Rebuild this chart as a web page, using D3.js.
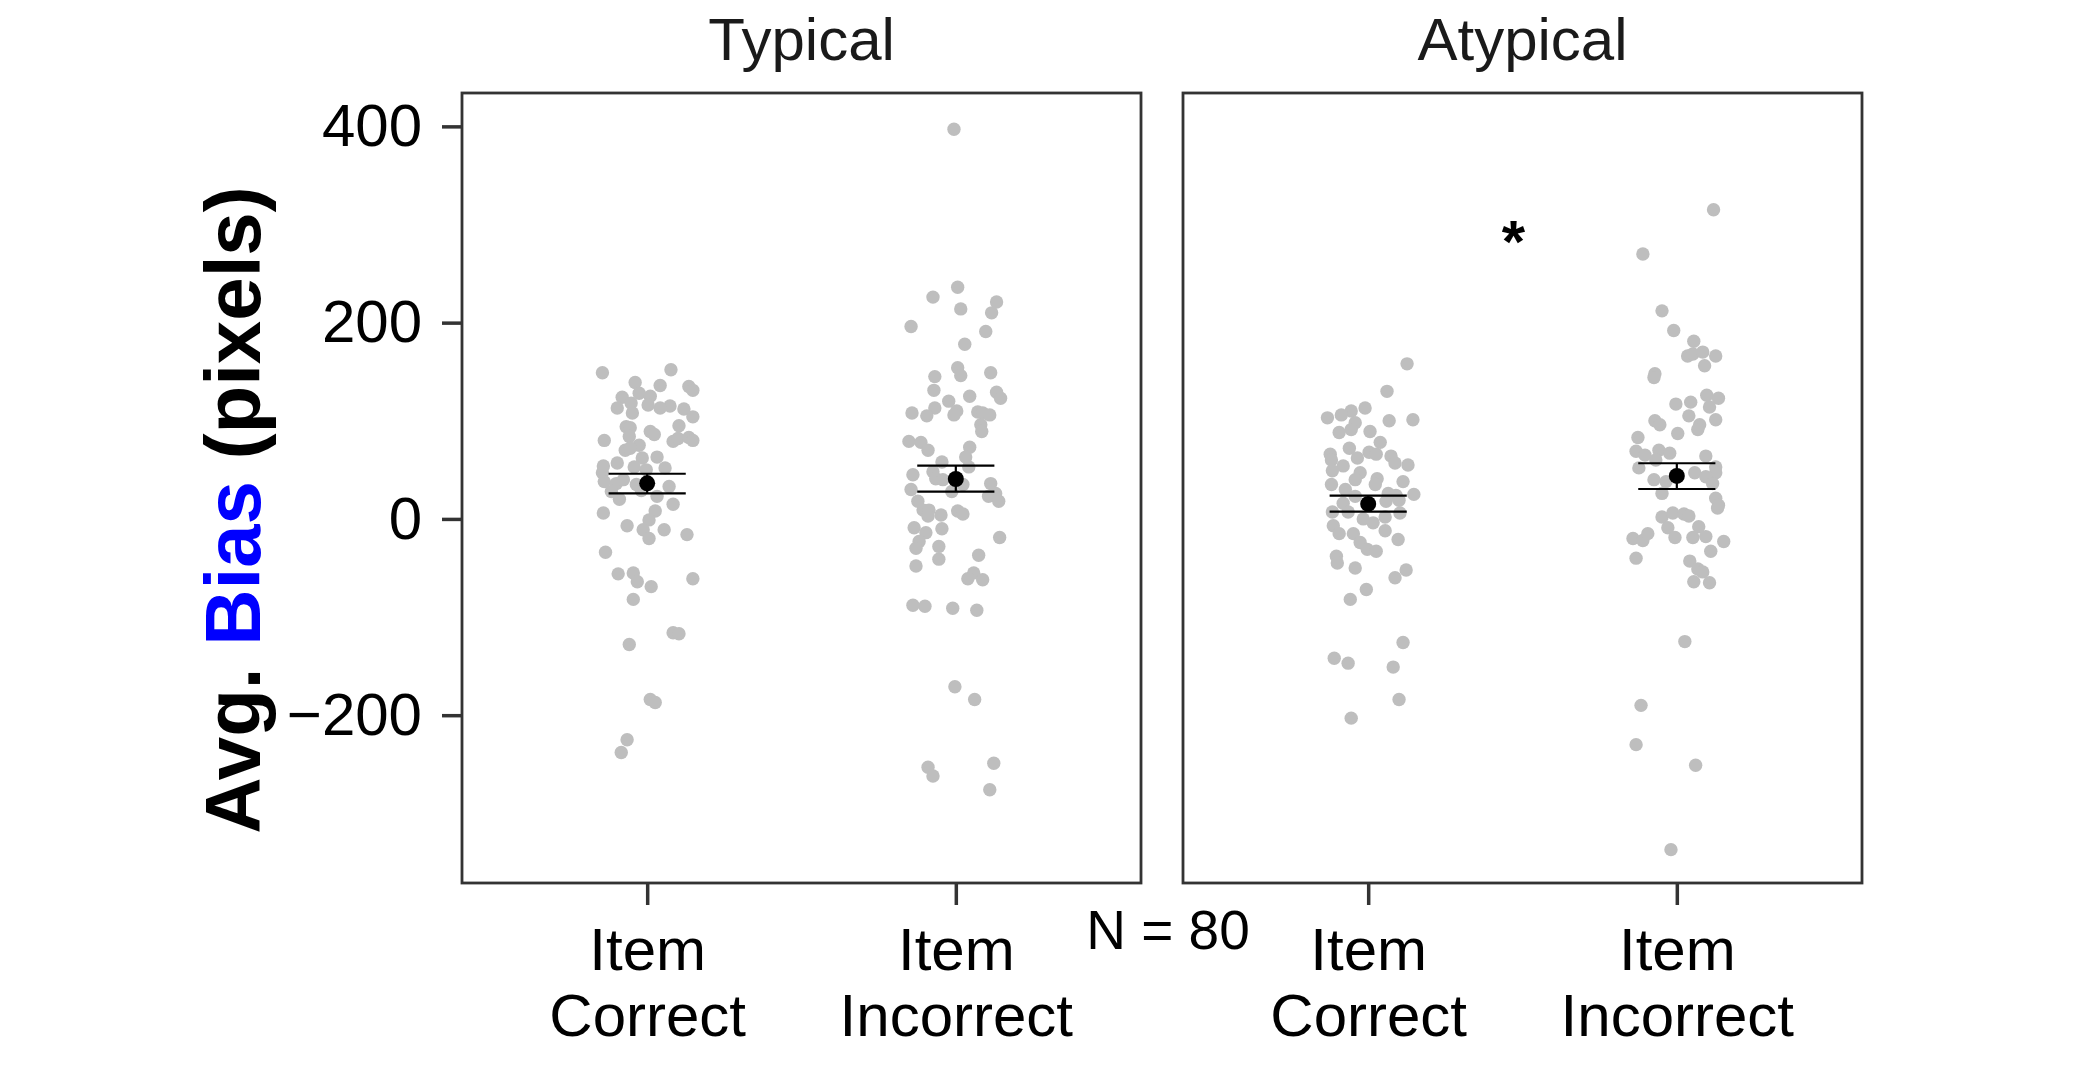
<!DOCTYPE html>
<html>
<head>
<meta charset="utf-8">
<script src="https://cdn.jsdelivr.net/npm/d3@7"></script>
<style>
  body { margin: 0; background: #fff; }
  svg { display: block; font-family: "Liberation Sans", Arial, Helvetica, sans-serif; }
</style>
</head>
<body>
<svg id="chart" width="2081" height="1075"></svg>
<script>
// facets and x categories
const conditions = ['Typical', 'Atypical'];
const items = ['Item Correct', 'Item Incorrect'];
const yTicks = [-200, 0, 200, 400];

// each point: [jitter (fraction of category step), avg bias in pixels]
const typicalCorrect = [
  [-.145,149],[.077,152],[-.039,139],[.042,136],[.135,135],[.148,131],[-.026,128],[-.081,124],[.010,125],[-.052,118],
  [-.097,113],[.003,116],[.074,115],[.042,113],[-.048,108],[.119,112],[.148,104],[.103,95],[-.068,94],[-.055,93],
  [.010,89],[.023,86],[-.058,84],[-.139,80],[.084,79],[.100,82],[.135,83],[.148,80],[-.026,75],[-.071,70],
  [-.055,72],[-.016,62],[.032,63],[-.097,57],[-.142,54],[-.042,53],[-.003,50],[.058,52],[-.145,47],[-.139,38],
  [-.100,36],[-.077,40],[-.035,35],[-.019,29],[.071,33],[-.116,28],[.032,23],[-.090,20],[.084,15],[.026,8],
  [-.142,6],[.006,-1],[-.065,-7],[-.013,-11],[.055,-11],[.129,-16],[.006,-20],[-.135,-34],[-.094,-56],[-.045,-55],
  [-.032,-64],[.013,-69],[.148,-61],[-.045,-82],[.084,-116],[.103,-117],[-.058,-128],[.010,-184],[.026,-187],[-.065,-225],
  [-.084,-238]
];
const typicalIncorrect = [
  [-.006,397],[.006,236],[-.074,226],[.016,214],[.132,221],[.116,210],[-.145,196],[.097,191],[.029,178],[.006,154],
  [.016,146],[-.068,145],[.113,149],[-.071,131],[.132,129],[.145,123],[.045,125],[-.023,120],[-.068,113],[-.142,108],
  [-.094,105],[.003,110],[-.006,106],[.071,109],[.087,108],[.110,106],[.081,96],[.084,89],[-.152,79],[-.113,78],
  [-.090,70],[.045,73],[.032,63],[-.045,58],[.042,53],[-.139,45],[-.074,48],[-.065,41],[-.042,40],[.113,36],
  [.023,35],[-.013,28],[-.145,30],[.129,26],[.106,23],[.139,18],[-.123,18],[-.106,9],[-.087,9],[-.090,3],
  [-.048,4],[.006,8],[.023,5],[-.135,-9],[-.097,-14],[-.045,-10],[-.119,-23],[-.129,-30],[-.055,-28],[.142,-19],
  [.074,-37],[-.055,-41],[-.129,-48],[.058,-55],[.039,-61],[.087,-62],[-.139,-88],[-.100,-89],[-.010,-91],[.068,-93],
  [-.003,-171],[.061,-184],[-.090,-253],[-.074,-262],[.123,-249],[.110,-276]
];
const atypicalCorrect = [
  [.126,158],[.061,130],[-.010,113],[-.055,110],[-.087,106],[-.132,103],[.068,100],[.145,101],[-.042,98],[-.055,91],
  [-.094,88],[.006,89],[.039,78],[-.061,72],[-.123,66],[.003,68],[.026,66],[.074,64],[-.119,60],[-.035,62],
  [.087,57],[.129,55],[-.081,54],[-.116,49],[-.026,47],[.029,41],[-.042,40],[.113,38],[-.119,35],[-.074,30],
  [.023,35],[.065,26],[.090,24],[.148,25],[-.042,23],[.058,18],[.100,19],[-.081,16],[-.116,7],[-.065,7],
  [-.016,0],[.016,-4],[.055,2],[.103,6],[-.113,-7],[-.094,-15],[-.048,-15],[.055,-12],[-.026,-24],[.097,-21],
  [-.003,-31],[.026,-33],[-.103,-38],[-.100,-45],[-.042,-50],[.123,-52],[.087,-60],[-.006,-72],[-.058,-82],[.113,-126],
  [-.110,-142],[-.065,-147],[.081,-151],[.100,-184],[-.055,-203]
];
const atypicalIncorrect = [
  [.119,315],[-.110,270],[-.048,212],[-.010,192],[.055,181],[.035,166],[.052,168],[.084,170],[.126,166],[.090,156],
  [-.071,148],[-.074,144],[.097,126],[.135,123],[-.003,117],[.045,119],[.106,114],[.039,105],[-.071,100],[-.055,96],
  [.126,101],[.074,96],[.068,91],[.003,87],[-.126,83],[-.132,69],[-.103,65],[-.058,70],[-.023,67],[-.068,60],
  [.094,64],[-.123,52],[.126,53],[.126,47],[.058,47],[.094,43],[-.074,40],[-.035,38],[.116,36],[-.048,26],
  [.126,21],[.135,14],[.132,11],[-.048,2],[-.013,6],[.023,5],[.039,3],[-.029,-9],[.071,-8],[-.142,-20],
  [-.110,-22],[-.094,-15],[-.006,-19],[.052,-19],[.094,-18],[.152,-23],[.110,-33],[-.132,-40],[.042,-43],[.068,-51],
  [.084,-54],[.055,-64],[.106,-65],[.026,-125],[-.116,-190],[-.132,-230],[.061,-251],[-.019,-337]
];

// group summaries: mean and lower / upper error bar
const means = [36.3, 40.7, 15.3, 43.8];
const errLow = [26, 27.8, 7.5, 30.5];
const errHigh = [46, 54.3, 23.8, 56.7];

const sampleLabel = 'N = 80';
const sigLabel = '*';
const sigValue = 262;

const groups = [typicalCorrect, typicalIncorrect, atypicalCorrect, atypicalIncorrect];

const svg = d3.select('#chart');
const panelTop = 93, panelH = 790, panelW = 679;
const panelLefts = [462, 1183];
const ink = '#333333';

const yScale = d3.scaleLinear()
  .domain([-371, 434])
  .range([panelTop + panelH, panelTop]);

const xScale = d3.scalePoint()
  .domain(items)
  .range([0, panelW])
  .padding(0.6);

conditions.forEach((cond, ci) => {
  const g = svg.append('g')
    .attr('transform', `translate(${panelLefts[ci]},0)`);

  // strip title
  g.append('text')
    .attr('x', panelW / 2)
    .attr('y', 60)
    .attr('text-anchor', 'middle')
    .style('font-size', '60px')
    .attr('fill', '#1a1a1a')
    .text(cond);

  // points
  items.forEach((item, ii) => {
    const gi = ci * 2 + ii;
    const cx = xScale(item);
    g.append('g').selectAll('circle')
      .data(groups[gi])
      .enter().append('circle')
        .attr('cx', d => cx + d[0] * xScale.step())
        .attr('cy', d => yScale(d[1]))
        .attr('r', 6.7)
        .attr('fill', '#bebebe');

    // error bar
    const half = 0.125 * xScale.step();
    const eb = g.append('g').attr('stroke', '#000').attr('stroke-width', 2.2);
    eb.append('line')
      .attr('x1', cx - half).attr('x2', cx + half)
      .attr('y1', yScale(errHigh[gi])).attr('y2', yScale(errHigh[gi]));
    eb.append('line')
      .attr('x1', cx - half).attr('x2', cx + half)
      .attr('y1', yScale(errLow[gi])).attr('y2', yScale(errLow[gi]));
    eb.append('line')
      .attr('x1', cx).attr('x2', cx)
      .attr('y1', yScale(errHigh[gi])).attr('y2', yScale(errLow[gi]));
    g.append('circle')
      .attr('cx', cx)
      .attr('cy', yScale(means[gi]))
      .attr('r', 8)
      .attr('fill', '#000');
  });

  // panel border
  g.append('rect')
    .attr('x', 0).attr('y', panelTop)
    .attr('width', panelW).attr('height', panelH)
    .attr('fill', 'none')
    .attr('stroke', ink)
    .attr('stroke-width', 2.8);

  // x axis
  const xAxis = g.append('g')
    .attr('transform', `translate(0,${panelTop + panelH})`)
    .call(d3.axisBottom(xScale).tickSize(22).tickPadding(22));
  xAxis.select('.domain').remove();
  xAxis.selectAll('.tick line').attr('stroke', ink).attr('stroke-width', 3.5);
  xAxis.selectAll('.tick text')
    .style('font-size', '60px')
    .attr('fill', '#000')
    .each(function(d) {
      const t = d3.select(this);
      const words = d.split(' ');
      t.text('');
      words.forEach((w, i) => {
        t.append('tspan')
          .attr('x', 0)
          .attr('dy', i === 0 ? '0.71em' : '1.1em')
          .text(w);
      });
    })
    .attr('dy', null);

  // significance marker in Atypical
  if (ci === 1) {
    g.append('text')
      .attr('x', (xScale(items[0]) + xScale(items[1])) / 2 - 9)
      .attr('y', yScale(sigValue))
      .attr('text-anchor', 'middle')
      .style('font-size', '60px')
      .style('font-weight', 'bold')
      .text(sigLabel);
  }
});

// y axis (left panel only)
const yAxis = svg.append('g')
  .attr('transform', `translate(${panelLefts[0]},0)`)
  .call(d3.axisLeft(yScale).tickValues(yTicks).tickSize(20).tickPadding(20));
yAxis.select('.domain').remove();
yAxis.selectAll('.tick line').attr('stroke', ink).attr('stroke-width', 3.5);
yAxis.selectAll('.tick text')
  .style('font-size', '60px')
  .attr('fill', '#000');

// y axis title with coloured word
const yTitle = svg.append('text')
  .attr('transform', 'translate(260,510) rotate(-90)')
  .attr('text-anchor', 'middle')
  .style('font-size', '78px')
  .style('font-weight', 'bold');
yTitle.append('tspan').attr('fill', '#000').text('Avg. ');
yTitle.append('tspan').attr('fill', '#0000ff').text('Bias');
yTitle.append('tspan').attr('fill', '#000').text(' (pixels)');

// sample size note
svg.append('text')
  .attr('x', 1168)
  .attr('y', 949)
  .attr('text-anchor', 'middle')
  .style('font-size', '55px')
  .text(sampleLabel);
</script>
</body>
</html>
